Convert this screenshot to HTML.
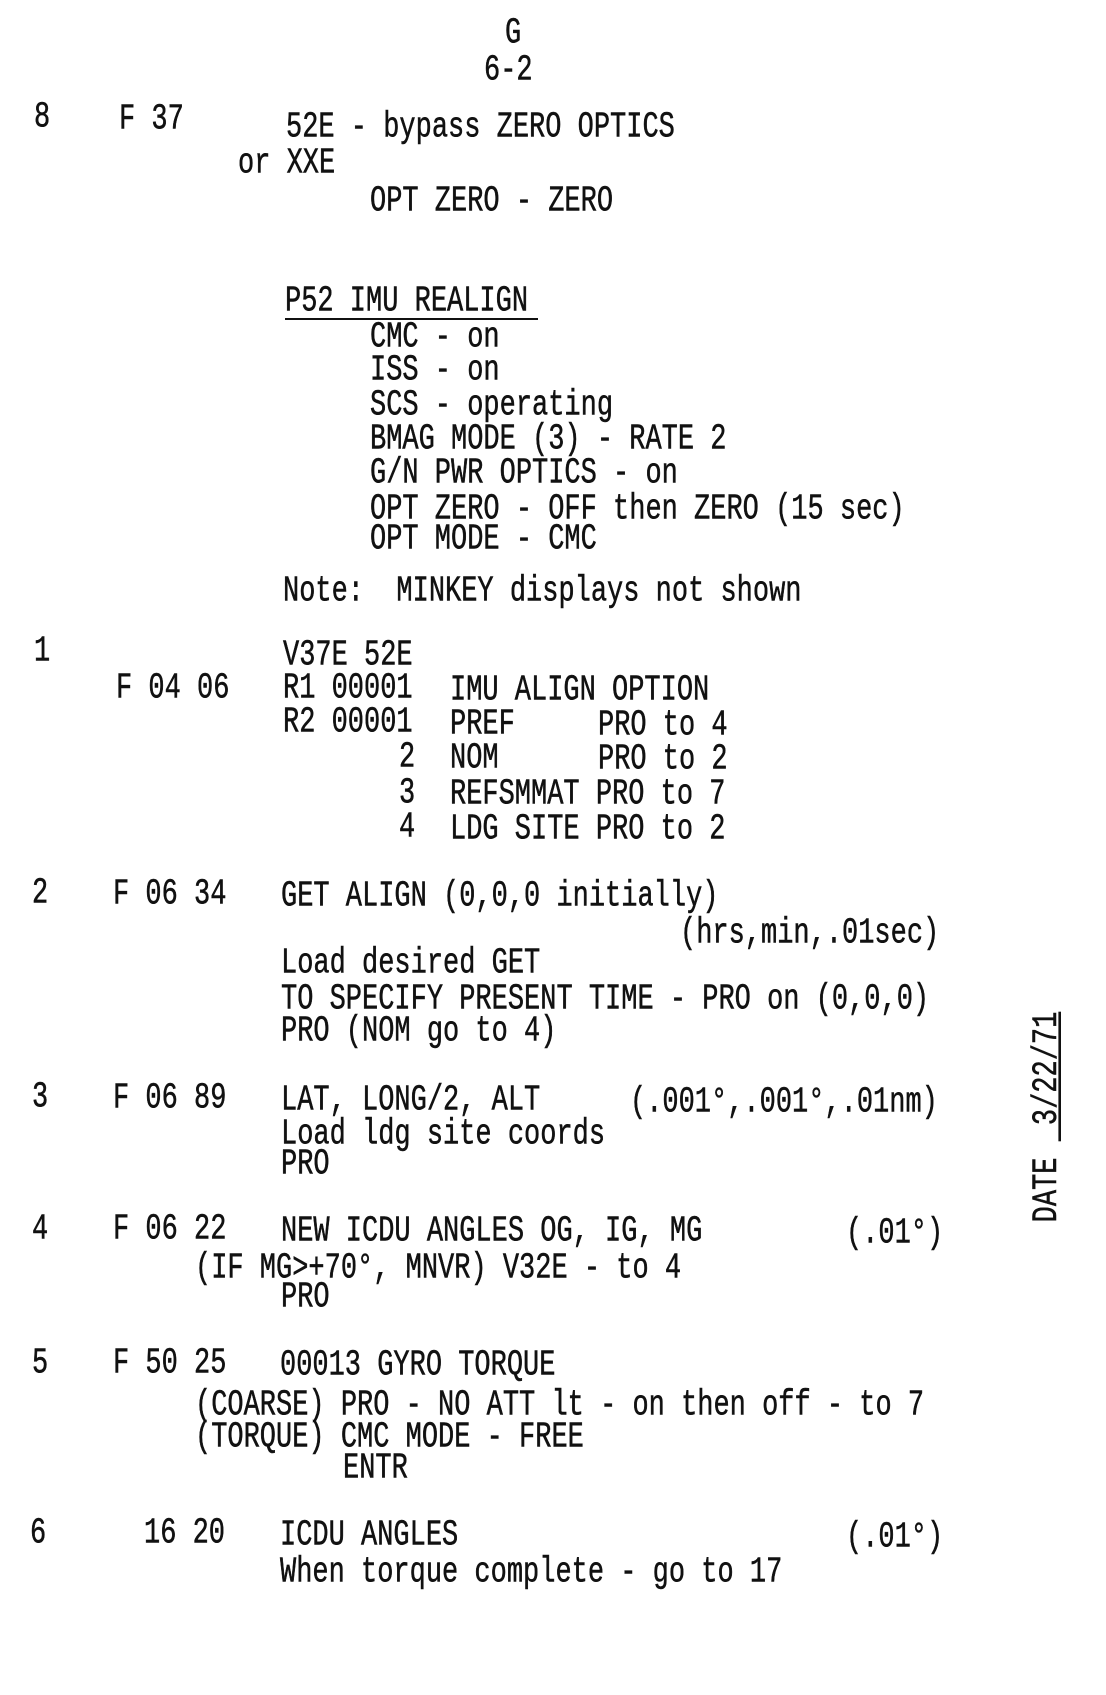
<!DOCTYPE html>
<html><head><meta charset="utf-8"><style>
html,body{margin:0;padding:0;background:#fff;}
body{width:1106px;height:1695px;position:relative;overflow:hidden;font-family:"Liberation Mono",monospace;font-size:27px;color:#111;}
#w{position:absolute;left:0;top:5px;width:1106px;height:1690px;-webkit-text-stroke:0.4px #111;}
.t{position:absolute;white-space:pre;line-height:27px;transform:translateY(-50%) scaleY(1.35);transform-origin:0 50%;}
.u{position:absolute;height:2px;background:#111;}
.date{position:absolute;left:1048px;top:1112px;white-space:pre;transform:translate(-50%,-50%) rotate(-90deg) scaleY(1.3);}
</style></head><body><div id="w">
<div class="t" style="left:505px;top:30px">G</div>
<div class="t" style="left:484px;top:67px">6-2</div>

<div class="t" style="left:34px;top:114px">8</div>
<div class="t" style="left:119px;top:116px">F 37</div>
<div class="t" style="left:286px;top:124px">52E - bypass ZERO OPTICS</div>
<div class="t" style="left:238px;top:160px">or XXE</div>
<div class="t" style="left:370px;top:198px">OPT ZERO - ZERO</div>

<div class="t" style="left:285px;top:298px">P52 IMU REALIGN</div>
<div class="u" style="left:285px;top:313px;width:253px"></div>
<div class="t" style="left:370px;top:334px">CMC - on</div>
<div class="t" style="left:370px;top:367px">ISS - on</div>
<div class="t" style="left:370px;top:402px">SCS - operating</div>
<div class="t" style="left:370px;top:436px">BMAG MODE (3) - RATE 2</div>
<div class="t" style="left:370px;top:470px">G/N PWR OPTICS - on</div>
<div class="t" style="left:370px;top:506px">OPT ZERO - OFF then ZERO (15 sec)</div>
<div class="t" style="left:370px;top:536px">OPT MODE - CMC</div>
<div class="t" style="left:283px;top:588px">Note:  MINKEY displays not shown</div>

<div class="t" style="left:34px;top:648px">1</div>
<div class="t" style="left:283px;top:652px">V37E 52E</div>
<div class="t" style="left:116px;top:685px">F 04 06</div>
<div class="t" style="left:283px;top:685px">R1 00001</div>
<div class="t" style="left:450px;top:687px">IMU ALIGN OPTION</div>
<div class="t" style="left:283px;top:719px">R2 00001</div>
<div class="t" style="left:450px;top:721px">PREF</div>
<div class="t" style="left:598px;top:722px">PRO to 4</div>
<div class="t" style="left:399px;top:754px">2</div>
<div class="t" style="left:450px;top:755px">NOM</div>
<div class="t" style="left:598px;top:756px">PRO to 2</div>
<div class="t" style="left:399px;top:790px">3</div>
<div class="t" style="left:450px;top:791px">REFSMMAT PRO to 7</div>
<div class="t" style="left:399px;top:824px">4</div>
<div class="t" style="left:450px;top:826px">LDG SITE PRO to 2</div>

<div class="t" style="left:32px;top:890px">2</div>
<div class="t" style="left:113px;top:891px">F 06 34</div>
<div class="t" style="left:281px;top:893px">GET ALIGN (0,0,0 initially)</div>
<div class="t" style="left:680px;top:930px">(hrs,min,.01sec)</div>
<div class="t" style="left:281px;top:960px">Load desired GET</div>
<div class="t" style="left:281px;top:996px">TO SPECIFY PRESENT TIME - PRO on (0,0,0)</div>
<div class="t" style="left:281px;top:1028px">PRO (NOM go to 4)</div>

<div class="t" style="left:32px;top:1094px">3</div>
<div class="t" style="left:113px;top:1095px">F 06 89</div>
<div class="t" style="left:281px;top:1097px">LAT, LONG/2, ALT</div>
<div class="t" style="left:630px;top:1099px">(.001°,.001°,.01nm)</div>
<div class="t" style="left:281px;top:1131px">Load ldg site coords</div>
<div class="t" style="left:281px;top:1161px">PRO</div>

<div class="t" style="left:32px;top:1226px">4</div>
<div class="t" style="left:113px;top:1226px">F 06 22</div>
<div class="t" style="left:281px;top:1228px">NEW ICDU ANGLES OG, IG, MG</div>
<div class="t" style="left:846px;top:1230px">(.01°)</div>
<div class="t" style="left:195px;top:1265px">(IF MG&gt;+70°, MNVR) V32E - to 4</div>
<div class="t" style="left:281px;top:1294px">PRO</div>

<div class="t" style="left:32px;top:1360px">5</div>
<div class="t" style="left:113px;top:1360px">F 50 25</div>
<div class="t" style="left:280px;top:1362px">00013 GYRO TORQUE</div>
<div class="t" style="left:195px;top:1402px">(COARSE) PRO - NO ATT lt - on then off - to 7</div>
<div class="t" style="left:195px;top:1434px">(TORQUE) CMC MODE - FREE</div>
<div class="t" style="left:343px;top:1465px">ENTR</div>

<div class="t" style="left:30px;top:1530px">6</div>
<div class="t" style="left:144px;top:1530px">16 20</div>
<div class="t" style="left:280px;top:1532px">ICDU ANGLES</div>
<div class="t" style="left:846px;top:1534px">(.01°)</div>
<div class="t" style="left:280px;top:1569px">When torque complete - go to 17</div>

<div class="date">DATE <span style="text-decoration:underline"> 3/22/71</span></div>
</div></body></html>
